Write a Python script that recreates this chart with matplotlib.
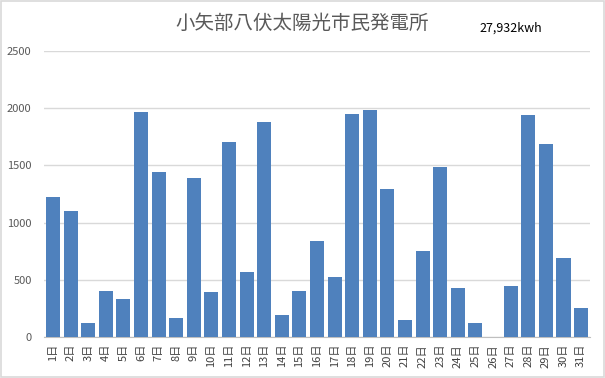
import matplotlib
matplotlib.use("Agg")
import matplotlib.pyplot as plt
from matplotlib.patches import Rectangle

plt.rcParams['font.family'] = ['Noto Sans CJK JP', 'DejaVu Sans']

days = [f"{i}日" for i in range(1, 32)]
values = [1226, 1104, 122, 405, 335, 1969, 1445, 166, 1392, 396,
          1707, 571, 1882, 192, 402, 839, 524, 1949, 1984, 1294,
          149, 752, 1486, 428, 122, 0, 446, 1940, 1687, 690, 253]
title = "小矢部八伏太陽光市民発電所"
total_label = "27,932kwh"
yticks = [0, 500, 1000, 1500, 2000, 2500]

fig = plt.figure(figsize=(6.05, 3.78), dpi=100)
fig.patches.append(Rectangle((0.0015, 0.0025), 0.997, 0.995, transform=fig.transFigure,
                             fill=False, edgecolor='#d9d9d9', linewidth=1.2))
ax = fig.add_axes([0.073, 0.1085, 0.902, 0.7566])

x = list(range(len(days)))
ax.bar(x, values, width=0.8, color='#4F81BD', zorder=3)
ax.set_xlim(-0.5, len(days) - 0.5)
ax.set_ylim(0, 2500)
ax.set_yticks(yticks)
ax.set_yticklabels([str(v) for v in yticks], color='#595959', fontsize=8)
ax.set_xticks(x)
ax.set_xticklabels(days, rotation=90, fontsize=8, color='#404040', va='top', ha='center')
ax.tick_params(axis='both', length=0)
ax.tick_params(axis='y', pad=9)
ax.tick_params(axis='x', pad=5)
ax.grid(axis='y', color='#d9d9d9', linewidth=1, zorder=0)
for s in ['top', 'right', 'left']:
    ax.spines[s].set_visible(False)
ax.spines['bottom'].set_color('#bfbfbf')

fig.text(0.50, 0.938, title, ha='center', va='center', fontsize=14, color='#595959')
fig.text(0.793, 0.925, total_label, ha='left', va='center', fontsize=9, color='#000000')

fig.savefig("out.png", dpi=100)
